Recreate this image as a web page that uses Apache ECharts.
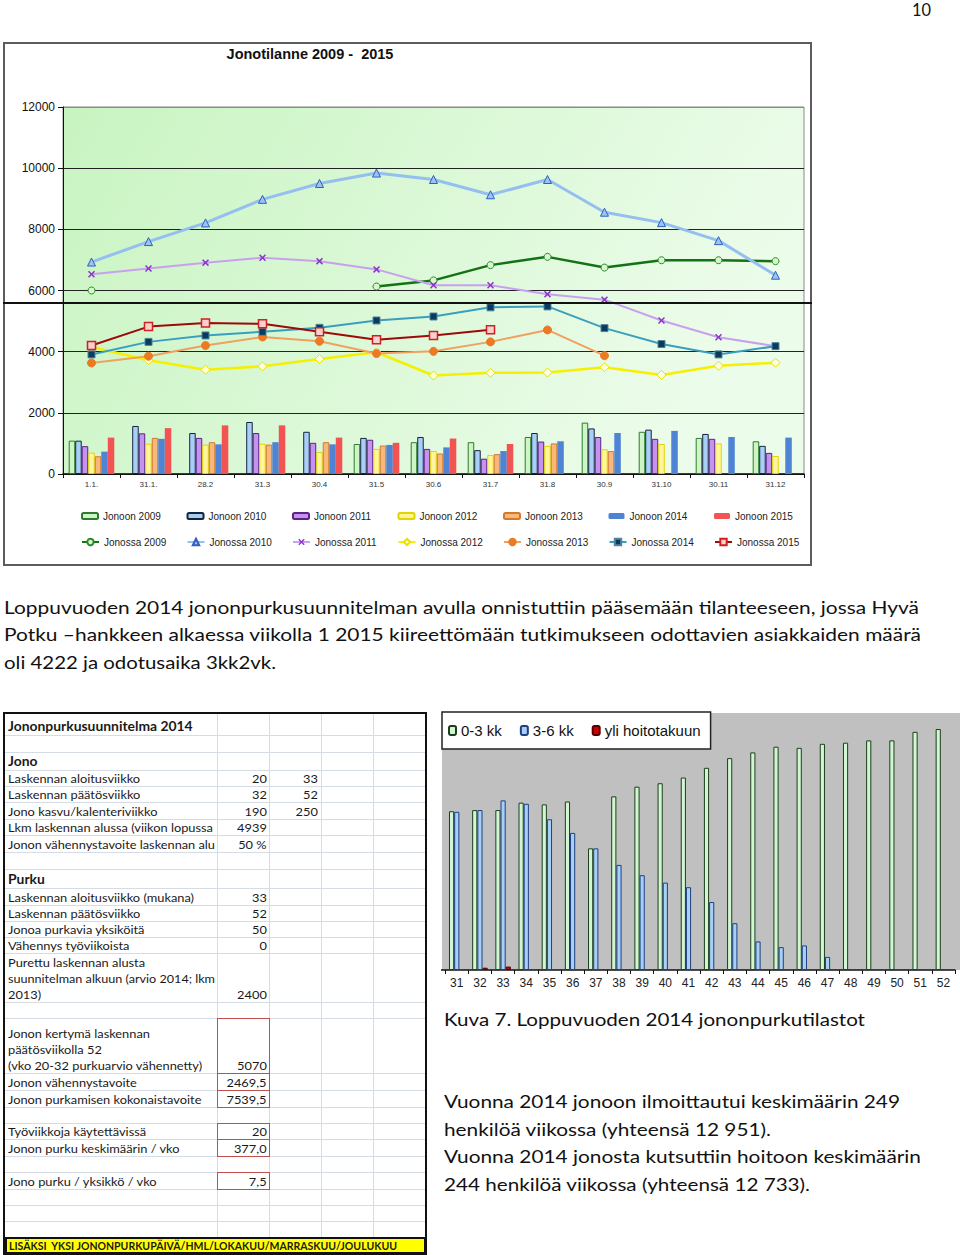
<!DOCTYPE html>
<html lang="fi"><head><meta charset="utf-8">
<title>Jonotilanne 2009 - 2015</title>
<script src="https://cdn.jsdelivr.net/npm/echarts@6.0.0/dist/echarts.min.js"></script>
<style>
html,body{margin:0;padding:0;background:#fff}
body{position:relative;width:960px;height:1255px;overflow:hidden}
.t{position:absolute;white-space:nowrap;font-family:Lato,'Open Sans',sans-serif;font-size:18px;line-height:24px;color:#111;transform-origin:0 50%}
#frame{position:absolute;left:3px;top:42px;width:809px;height:524px;box-sizing:border-box;border:2px solid #5c5c5c}
#main{position:absolute;left:0;top:0;width:820px;height:600px}
#cut{position:absolute;left:3px;top:302px;width:809px;height:2px;background:#111}
#qbg{position:absolute;left:442px;top:713px;width:518px;height:257px;background:#c0c0c0}
#queue{position:absolute;left:441px;top:705px;width:519px;height:290px}
#sheet{position:absolute;left:3px;top:712px;width:424px;height:543px;box-sizing:border-box;border:2px solid #111}
.s{position:absolute;white-space:pre;font-family:Lato,sans-serif;font-size:12px;line-height:16px;color:#1a1a1a}
.sb{font-weight:bold;font-size:13px;line-height:18px}
.hl{position:absolute;height:1px;background:#d6dce5}
.vl{position:absolute;width:1px;background:#d6dce5}
.rb{position:absolute;box-sizing:border-box;border:1.5px solid #c0504d}
#yellow{position:absolute;left:5px;top:1237px;width:421px;height:17px;box-sizing:border-box;background:#ffff00;border:2px solid #111}
</style></head>
<body>
<span class="t" style="left:912px;top:-3px" data-w="19">10</span>

<div id="frame"></div>
<div id="main"></div>
<div id="cut"></div>

<span class="t" style="left:4px;top:595px" data-w="915">Loppuvuoden 2014 jononpurkusuunnitelman avulla onnistuttiin pääsemään tilanteeseen, jossa Hyvä</span>
<span class="t" style="left:4px;top:622px" data-w="917">Potku –hankkeen alkaessa viikolla 1 2015 kiireettömään tutkimukseen odottavien asiakkaiden määrä</span>
<span class="t" style="left:4px;top:650px" data-w="272">oli 4222 ja odotusaika 3kk2vk.</span>

<div id="sheet"></div>
<div id="sheetc"></div>
<div id="yellow"></div>

<div id="qbg"></div>
<div id="queue"></div>

<span class="t" style="left:444px;top:1007px" data-w="421">Kuva 7. Loppuvuoden 2014 jononpurkutilastot</span>
<span class="t" style="left:444px;top:1089px" data-w="456">Vuonna 2014 jonoon ilmoittautui keskimäärin 249</span>
<span class="t" style="left:444px;top:1117px" data-w="327">henkilöä viikossa (yhteensä 12 951).</span>
<span class="t" style="left:444px;top:1144px" data-w="477">Vuonna 2014 jonosta kutsuttiin hoitoon keskimäärin</span>
<span class="t" style="left:444px;top:1172px" data-w="366">244 henkilöä viikossa (yhteensä 12 733).</span>

<script>
// ---------- Main chart data ----------
const categories = ['1.1.','31.1.','28.2','31.3','30.4','31.5','30.6','31.7','31.8','30.9','31.10','30.11','31.12'];
const yTicks = [0, 2000, 4000, 6000, 8000, 10000, 12000];

const jonoon2009 = [1090, null, null, null, null, 980, 1040, 1040, 1210, 1680, 1380, 1180, 1070];
const jonoon2010 = [1090, 1570, 1340, 1700, 1380, 1180, 1210, 780, 1340, 1490, 1450, 1310, 920];
const jonoon2011 = [910, 1330, 1180, 1340, 1020, 1120, 820, 500, 1060, 1210, 1150, 1150, 690];
const jonoon2012 = [700, 990, 960, 990, 720, 820, 750, 620, 920, 810, 980, 1000, 590];
const jonoon2013 = [580, 1180, 1040, 960, 1040, 930, 670, 650, 1000, 750, null, null, null];
const jonoon2014 = [730, 1150, 970, 1040, 970, 950, 870, 750, 1070, 1340, 1410, 1210, 1190];
const jonoon2015 = [1190, 1500, 1590, 1590, 1190, 1020, 1160, 980, null, null, null, null, null];

const jonossa2009 = [6000, null, null, null, null, 6130, 6330, 6830, 7100, 6750, 6990, 6990, 6960];
const jonossa2010 = [6930, 7600, 8210, 8980, 9500, 9840, 9630, 9130, 9630, 8560, 8220, 7630, 6500];
const jonossa2011 = [6530, 6720, 6910, 7070, 6960, 6690, 6170, 6170, 5880, 5700, 5020, 4470, 4180];
const jonossa2012 = [4150, 3720, 3410, 3520, 3760, 3980, 3220, 3310, 3320, 3490, 3240, 3540, 3640];
const jonossa2013 = [3630, 3850, 4200, 4480, 4340, 3940, 4010, 4320, 4710, 3870, null, null, null];
const jonossa2014 = [3910, 4320, 4530, 4650, 4780, 5020, 5150, 5450, 5480, 4770, 4250, 3910, 4180];
const jonossa2015 = [4200, 4820, 4940, 4910, 4650, 4390, 4530, 4720, null, null, null, null, null];

const barNames = ['Jonoon 2009','Jonoon 2010','Jonoon 2011','Jonoon 2012','Jonoon 2013','Jonoon 2014','Jonoon 2015'];
const lineNames = ['Jonossa 2009','Jonossa 2010','Jonossa 2011','Jonossa 2012','Jonossa 2013','Jonossa 2014','Jonossa 2015'];

// ---------- Queue chart data (weeks 2014) ----------
const weeks = ['30','31','32','33','34','35','36','37','38','39','40','41','42','43','44','45','46','47','48','49','50','51','52'];
const kk0to3 = [null, 2780, 2800, 2800, 2930, 2900, 2950, 2130, 3040, 3210, 3270, 3370, 3540, 3710, 3810, 3910, 3890, 3960, 3980, 4020, 4020, 4170, 4220];
const kk3to6 = [null, 2770, 2800, 2970, 2910, 2640, 2400, 2130, 1840, 1660, 1530, 1450, 1190, 820, 500, 400, 430, 230, null, null, null, null, null];
const yliTakuu = [null, null, 40, 60, null, null, null, null, null, null, null, null, null, null, null, null, null, null, null, null, null, null, null];
const queueNames = ['0-3 kk', '3-6 kk', 'yli hoitotakuun'];

// ---------- Spreadsheet content (text as visible in the cells) ----------
const sheetRows = [
  [735, ['Jononpurkusuunnitelma 2014'], '', '', 1, 0],
  [752, [], '', '', 0, 0],
  [770, ['Jono'], '', '', 1, 0],
  [786, ['Laskennan aloitusviikko'], '20', '33', 0, 0],
  [802, ['Laskennan päätösviikko'], '32', '52', 0, 0],
  [819, ['Jono kasvu/kalenteriviikko'], '190', '250', 0, 0],
  [835, ['Lkm laskennan alussa (viikon lopussa'], '4939', '', 0, 0],
  [852, ['Jonon vähennystavoite laskennan alu'], '50 %', '', 0, 0],
  [869, [], '', '', 0, 0],
  [888, ['Purku'], '', '', 1, 0],
  [905, ['Laskennan aloitusviikko (mukana)'], '33', '', 0, 0],
  [921, ['Laskennan päätösviikko'], '52', '', 0, 0],
  [937, ['Jonoa purkavia yksiköitä'], '50', '', 0, 0],
  [953, ['Vähennys työviikoista'], '0', '', 0, 0],
  [1002, ['Purettu laskennan alusta', 'suunnitelman alkuun (arvio 2014; lkm', '2013)'], '2400', '', 0, 0],
  [1018, [], '', '', 0, 0],
  [1073, ['Jonon kertymä laskennan', 'päätösviikolla 52', '(vko 20-32 purkuarvio vähennetty)'], '5070', '', 0, 1],
  [1090, ['Jonon vähennystavoite'], '2469,5', '', 0, 1],
  [1107, ['Jonon purkamisen kokonaistavoite'], '7539,5', '', 0, 1],
  [1123, [], '', '', 0, 0],
  [1139, ['Työviikkoja käytettävissä'], '20', '', 0, 1],
  [1156, ['Jonon purku keskimäärin / vko'], '377,0', '', 0, 1],
  [1172, [], '', '', 0, 0],
  [1189, ['Jono purku / yksikkö / vko'], '7,5', '', 0, 1],
  [1205, [], '', '', 0, 0],
  [1221, [], '', '', 0, 0],
  [1237, [], '', '', 0, 0]
];
const sheetFooter = 'LISÄKSI  YKSI JONONPURKUPÄIVÄ/HML/LOKAKUU/MARRASKUU/JOULUKUU';

// ---------- Build spreadsheet ----------
(function buildSheet(){
  const c = document.getElementById('sheetc');
  const colX = [217, 269, 321, 373];
  colX.forEach(x => {
    const v = document.createElement('div'); v.className = 'vl';
    v.style.left = x + 'px'; v.style.top = '714px'; v.style.height = '523px'; c.appendChild(v);
  });
  const cv = document.createElement('canvas').getContext('2d');
  cv.font = '12px Lato';
  const k = 186 / cv.measureText('Laskennan aloitusviikko (mukana)').width;
  let prev = 714;
  sheetRows.forEach(r => {
    const [bottom, lines, vb, vc, bold, red] = r;
    const h = document.createElement('div'); h.className = 'hl';
    h.style.left = '5px'; h.style.width = '420px'; h.style.top = bottom + 'px'; c.appendChild(h);
    lines.forEach((txt, i) => {
      const n = lines.length;
      const s = document.createElement('span'); s.className = 's' + (bold ? ' sb' : '');
      const top = bold ? bottom - 18 : bottom - 15 - (n - 1 - i) * 16;
      s.style.left = '8px'; s.style.top = top + 'px';
      s.style.transformOrigin = '0 50%'; s.style.transform = 'scaleX(' + k + ')';
      s.textContent = txt; c.appendChild(s);
      const w = s.getBoundingClientRect().width;
      if (w > 207) s.style.transform = 'scaleX(' + (k * 207 / w) + ')';
    });
    [[vb, 267], [vc, 318]].forEach(([val, right]) => {
      if (!val) return;
      const s = document.createElement('span'); s.className = 's';
      s.style.right = (960 - right) + 'px'; s.style.top = (bottom - 15) + 'px';
      s.style.transformOrigin = '100% 50%'; s.style.transform = 'scaleX(' + k + ')';
      s.textContent = val; c.appendChild(s);
    });
    if (red) {
      const b = document.createElement('div'); b.className = 'rb';
      b.style.left = '217px'; b.style.width = '53px';
      b.style.top = prev + 'px'; b.style.height = (bottom - prev + 1) + 'px'; c.appendChild(b);
    }
    prev = bottom;
  });
  const y = document.getElementById('yellow');
  const f = document.createElement('span'); f.className = 's';
  f.style.fontWeight = 'bold'; f.style.fontSize = '11px'; f.style.lineHeight = '13px';
  f.style.left = '2px'; f.style.top = '0px'; f.style.transformOrigin = '0 50%';
  f.setAttribute('data-w', '388'); f.textContent = sheetFooter; y.appendChild(f);
})();

// ---------- Main chart ----------
const FONT = 'Liberation Sans, Arial, sans-serif';
const jonoon = [jonoon2009, jonoon2010, jonoon2011, jonoon2012, jonoon2013, jonoon2014, jonoon2015];
const jonossa = [jonossa2009, jonossa2010, jonossa2011, jonossa2012, jonossa2013, jonossa2014, jonossa2015];
const barStyles = [
  {color:'#cdf5c5', borderColor:'#2f7a2f', borderWidth:1},
  {color:'#a9cff6', borderColor:'#13243f', borderWidth:1},
  {color:'#c493f0', borderColor:'#5e2184', borderWidth:1},
  {color:'#fff59c', borderColor:'#e3d400', borderWidth:1},
  {color:'#f8b77b', borderColor:'#d27a2c', borderWidth:1},
  {color:'#4f83d3', borderWidth:0},
  {color:'#f25454', borderWidth:0}
];
const xPath = 'path://M0,1.5L1.5,0L5,3.5L8.5,0L10,1.5L6.5,5L10,8.5L8.5,10L5,6.5L1.5,10L0,8.5L3.5,5Z';
const lineStyles = [
  {symbol:'circle', size:7, item:{color:'#d8f6cc', borderColor:'#2a8a2a', borderWidth:1}, line:{color:'#137213', width:2.5}},
  {symbol:'triangle', size:8, item:{color:'#9cc3f2', borderColor:'#2f5fc0', borderWidth:1}, line:{color:'#94bff0', width:3}},
  {symbol:xPath, size:7, item:{color:'#8b34c8', borderWidth:0}, line:{color:'#c8a0f0', width:2}},
  {symbol:'diamond', size:9, item:{color:'#ffffe0', borderColor:'#e8e000', borderWidth:1}, line:{color:'#f5ef00', width:2.5}},
  {symbol:'circle', size:8, item:{color:'#ec7a22', borderColor:'#ec7a22', borderWidth:1}, line:{color:'#f0a060', width:2}},
  {symbol:'rect', size:7, item:{color:'#0b3a5c', borderColor:'#4f87a0', borderWidth:1}, line:{color:'#3a9fbf', width:2}},
  {symbol:'rect', size:8, item:{color:'#f8d0d0', borderColor:'#d02020', borderWidth:1.5}, line:{color:'#9c0a0a', width:2}}
];

const series = [];
jonoon.forEach((d, i) => series.push({
  name: barNames[i], type: 'bar', data: d, barGap: '0%', barCategoryGap: '20%',
  itemStyle: barStyles[i], z: 2, emphasis: {disabled: true}
}));
jonossa.forEach((d, i) => series.push({
  name: lineNames[i], type: 'line', data: d, symbol: lineStyles[i].symbol,
  symbolSize: lineStyles[i].size, showAllSymbol: true, connectNulls: false,
  itemStyle: lineStyles[i].item, lineStyle: lineStyles[i].line, z: 3 + i,
  emphasis: {disabled: true}
}));

const legends = [];
barNames.forEach((n, i) => legends.push({
  data: [n], left: 81 + i * 105.5, top: 511, padding: 0, itemWidth: 16, itemHeight: 6,
  selectedMode: false, textStyle: {fontSize: 10, fontFamily: FONT, color: '#222'}
}));
lineNames.forEach((n, i) => legends.push({
  data: [n], left: 81 + i * 105.5, top: 537, padding: 0, itemWidth: 17, itemHeight: 8,
  selectedMode: false, textStyle: {fontSize: 10, fontFamily: FONT, color: '#222'}
}));

const mainChart = echarts.init(document.getElementById('main'), null, {renderer: 'svg'});
mainChart.setOption({
  animation: false,
  title: {text: 'Jonotilanne 2009 -  2015', left: 310, top: 46, textAlign: 'center', padding: 0,
    textStyle: {fontSize: 14.5, fontWeight: 'bold', fontFamily: FONT, color: '#111'}},
  legend: legends,
  grid: {left: 63, top: 107, width: 741, height: 367, show: true, outerBoundsMode: 'none',
    backgroundColor: {type: 'linear', x: 0, y: 0, x2: 1, y2: 0.3,
      colorStops: [{offset: 0, color: '#c8f4c1'}, {offset: 1, color: '#ecfcea'}]},
    borderColor: '#8a8a8a', borderWidth: 1},
  xAxis: {type: 'category', data: categories, boundaryGap: true,
    axisLine: {lineStyle: {color: '#111', width: 1.5}},
    axisTick: {show: true, length: 4, lineStyle: {color: '#111'}},
    axisLabel: {interval: 0, fontSize: 8, color: '#333', fontFamily: FONT, margin: 6}},
  yAxis: {type: 'value', min: yTicks[0], max: yTicks[yTicks.length - 1], interval: 2000,
    axisLine: {show: true, lineStyle: {color: '#111', width: 1}},
    axisTick: {show: true, length: 5, lineStyle: {color: '#111'}},
    axisLabel: {fontSize: 12, color: '#111', fontFamily: FONT, margin: 8, formatter: v => String(v)},
    splitLine: {show: true, lineStyle: {color: ['#222','#222','#222','#222','#222','#222','#8a8a8a'], width: 1}}},
  series: series
});

// ---------- Queue chart ----------
const qStyles = [
  {color:'#d2f6d2', borderColor:'#1d3d1d', borderWidth:1},
  {color:'#a8cff5', borderColor:'#1f3f80', borderWidth:1},
  {color:'#cc0000', borderColor:'#550000', borderWidth:1}
];
const qData = [kk0to3, kk3to6, yliTakuu];
const queueChart = echarts.init(document.getElementById('queue'), null, {renderer: 'svg'});
queueChart.setOption({
  animation: false,
  legend: {data: queueNames, left: 1, top: 7, orient: 'horizontal', padding: [11, 10, 11, 6],
    itemWidth: 7, itemHeight: 9, itemGap: 18, selectedMode: false,
    backgroundColor: '#fff', borderColor: '#222', borderWidth: 1.5,
    textStyle: {fontSize: 15, fontFamily: FONT, color: '#111'}},
  grid: {left: -19, right: 5, top: 8, bottom: 25, outerBoundsMode: 'none'},
  xAxis: {type: 'category', data: weeks, boundaryGap: true,
    axisLine: {lineStyle: {color: '#111', width: 1.5}},
    axisTick: {show: true, length: 4, lineStyle: {color: '#111'}},
    axisLabel: {interval: (i) => i > 0, fontSize: 12, color: '#222', fontFamily: FONT, margin: 7}},
  yAxis: {type: 'value', min: 0, max: 4500, show: false, splitLine: {show: false}},
  series: qData.map((d, i) => ({name: queueNames[i], type: 'bar', data: d, barGap: '0%',
    barCategoryGap: '33%', itemStyle: qStyles[i], emphasis: {disabled: true}}))
});

// ---------- fit text widths ----------
document.querySelectorAll('[data-w]').forEach(el => {
  const w = el.getBoundingClientRect().width;
  if (w > 0) el.style.transform = 'scaleX(' + (parseFloat(el.dataset.w) / w) + ')';
});
</script>
</body></html>
